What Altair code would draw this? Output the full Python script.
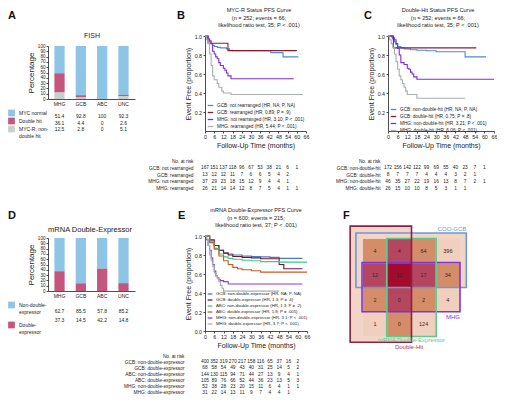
import altair as alt
import pandas as pd

FONT = "Liberation Sans"
INK = "#222222"

# ---------------- shared ----------------
months = [0, 6, 12, 18, 24, 30, 36, 42, 48, 54, 60, 66]
risk_times = [0, 6, 12, 18, 24, 30, 36, 42, 48, 54, 60]
groups = ["MHG", "GCB", "ABC", "UNC"]

# ---------------- A: FISH ----------------
fish_status = ["MYC normal", "Double hit", "MYC-R; non-double hit"]
fish_normal = [51.4, 92.8, 100, 92.3]
fish_double = [36.1, 4.4, 0, 2.6]
fish_nondh = [12.5, 2.8, 0, 5.1]
fish_colors = ["#8ec4e6", "#c4557c", "#c3d2cd"]

# ---------------- D: mRNA double expressor ----------------
de_status = ["Non-double-expressor", "Double-expressor"]
de_non = [62.7, 85.5, 57.8, 85.2]
de_double = [37.3, 14.5, 42.2, 14.8]
de_colors = ["#8ec4e6", "#c4557c"]

# ---------------- B: MYC-R status PFS ----------------
b_title = ["MYC-R Status PFS Curve", "(n = 252; events = 66;", "likelihood ratio test, 35; P < .001)"]
b_rows = ["GCB: not rearranged", "GCB: rearranged", "MHG: not rearranged", "MHG: rearranged"]
b_legend = ["GCB: not rearranged (HR, NA; P, NA)", "GCB: rearranged (HR, 0.89; P = .9)",
            "MHG: not rearranged (HR, 3.10; P < .001)", "MHG: rearranged (HR, 5.44; P < .001)"]
b_colors = ["#4a8dd0", "#8c1c32", "#7a30d8", "#a9aeae"]
b_t = [
    [0, 1, 2, 3, 4, 5, 6, 8, 10, 14, 16, 18, 43, 51, 61],
    [0, 2, 15, 60],
    [0, 2, 3, 4, 5, 6, 7, 8, 9, 10, 12, 13, 14, 15, 17, 58],
    [0, 1, 2, 3, 4, 5, 6, 8, 9, 11, 12, 17, 64],
]
b_s = [
    [1, .98, .96, .94, .92, .90, .89, .88, .875, .865, .85, .845, .825, .78, .78],
    [1, .923, .846, .846],
    [1, .97, .95, .92, .84, .81, .78, .76, .72, .69, .66, .64, .61, .58, .55, .55],
    [1, .96, .92, .81, .69, .58, .54, .50, .46, .42, .40, .385, .385],
]
b_risk = [
    [167, 151, 137, 118, 96, 67, 53, 38, 21, 6, 1],
    [13, 12, 12, 11, 7, 6, 6, 5, 4, 2],
    [37, 29, 23, 18, 15, 12, 9, 4, 4, 1],
    [26, 21, 14, 14, 12, 8, 7, 5, 4, 1, 1],
]

# ---------------- C: Double-hit status PFS ----------------
c_title = ["Double-Hit Status PFS Curve", "(n = 252; events = 66;", "likelihood ratio test, 35; P < .001)"]
c_rows = ["GCB: non-double-hit", "GCB: double-hit", "MHG: non-double-hit", "MHG: double-hit"]
c_legend = ["GCB: non-double-hit (HR, NA; P, NA)", "GCB: double-hit (HR, 0.75; P = .8)",
            "MHG: non-double-hit (HR, 3.21; P < .001)", "MHG: double-hit (HR, 6.06; P < .001)"]
c_colors = ["#4a8dd0", "#8c1c32", "#7a30d8", "#a9aeae"]
c_t = [
    [0, 2, 3, 4, 5, 6, 8, 10, 14, 18, 24, 30, 48, 61],
    [0, 3.4, 55],
    [0, 3, 4, 5, 6, 7, 8, 10, 12, 13, 14, 15, 16, 18, 66],
    [0, 1, 2, 3, 4, 5, 6, 7, 8, 9, 10, 11, 12, 18, 48],
]
c_s = [
    [1, .99, .97, .94, .91, .89, .875, .865, .855, .85, .845, .835, .78, .78],
    [1, .875, .875],
    [1, .98, .96, .92, .87, .80, .72, .70, .66, .65, .62, .60, .57, .545, .545],
    [1, .96, .92, .88, .81, .73, .65, .58, .54, .50, .46, .42, .385, .345, .345],
]
c_risk = [
    [172, 156, 142, 122, 99, 69, 55, 40, 23, 7, 1],
    [8, 7, 7, 7, 4, 4, 4, 3, 2, 1],
    [46, 35, 27, 22, 19, 16, 13, 8, 7, 2, 1],
    [26, 15, 10, 10, 8, 5, 3, 1, 1],
]

# ---------------- E: mRNA double-expressor PFS ----------------
e_title = ["mRNA Double-Expressor PFS Curve", "(n = 600; events = 215;", "likelihood ratio test, 37; P < .001)"]
e_rows = ["GCB: non-double-expressor", "GCB: double-expressor", "ABC: non-double-expressor",
          "ABC: double-expressor", "MHG: non-double-expressor", "MHG: double-expressor"]
e_legend = ["GCB: non-double-expressor (HR, NA; P, NA)", "GCB: double-expressor (HR, 1.3; P = .4)",
            "ABC: non-double-expressor (HR, 1.3; P = .2)", "ABC: double-expressor (HR, 1.8; P = .005)",
            "MHG: non-double-expressor (HR, 3.1; P < .001)", "MHG: double-expressor (HR, 3.7; P < .001)"]
e_colors = ["#3f7fc4", "#7d1030", "#3cc98a", "#cc5a1e", "#8a3ce0", "#a9aeae"]
e_t = [
    [0, 3, 6, 9, 12, 15, 18, 24, 30, 36, 42, 48, 63],
    [0, 3, 6, 9, 12, 15, 18, 24, 30, 36, 42, 48, 51, 63],
    [0, 3, 6, 9, 12, 15, 18, 24, 30, 36, 48, 66],
    [0, 3, 6, 9, 12, 15, 18, 21, 24, 30, 36, 66],
    [0, 1, 2, 3, 4, 5, 6, 7, 8, 9, 10, 12, 15, 63],
    [0, 1, 2, 3, 4, 5, 6, 7, 8, 9, 10, 11, 12, 48],
]
e_s = [
    [1, .95, .9, .85, .82, .81, .80, .79, .785, .78, .775, .765, .765],
    [1, .96, .9, .85, .82, .80, .785, .775, .77, .76, .76, .70, .655, .655],
    [1, .94, .87, .81, .78, .765, .755, .745, .74, .73, .725, .725],
    [1, .93, .86, .79, .74, .70, .67, .655, .645, .635, .62, .62],
    [1, .96, .9, .85, .77, .70, .63, .58, .56, .54, .53, .52, .495, .495],
    [1, .97, .9, .8, .74, .68, .61, .58, .55, .52, .48, .45, .42, .42],
]
e_risk = [
    [400, 352, 319, 270, 217, 158, 116, 65, 37, 16, 2],
    [68, 58, 54, 49, 43, 40, 31, 25, 14, 5, 2],
    [144, 130, 115, 94, 71, 44, 27, 13, 9, 4, 1],
    [105, 89, 76, 66, 52, 44, 36, 23, 13, 5, 3],
    [52, 38, 28, 23, 20, 15, 11, 6, 4, 1, 1],
    [31, 22, 14, 13, 11, 9, 7, 4, 4, 1],
]

# ---------------- F: overlap grid ----------------
f_counts = [[4, 4, 64, 396], [12, 12, 17, 34], [2, 0, 2, 4], [1, 0, 124, None]]
f_sets = ["COO-GCB", "MHG", "mRNA Double-Expressor", "Double-Hit"]
f_set_cols = {"Double-Hit": [0, 1], "mRNA Double-Expressor": [1, 2]}
f_set_rows = {"COO-GCB": [0, 1], "MHG": [1, 2]}
f_set_colors = {"COO-GCB": "#6b9ad6", "MHG": "#7a35dc", "mRNA Double-Expressor": "#5cc98f", "Double-Hit": "#8e1f45"}
f_label_colors = {"COO-GCB": "#6b9ad6", "MHG": "#7a35dc", "mRNA Double-Expressor": "#5cc98f", "Double-Hit": "#a83868"}
f_cell_colors = ["#f1cfbf", "#d58d69", "#b4475f", "#a20b2b"]


def letter_layer(letter, lx, ly):
    return alt.Chart(pd.DataFrame({"t": [letter]})).mark_text(
        font=FONT, fontSize=11, fontWeight="bold", align="left", baseline="middle", color="#111"
    ).encode(text="t:N", x=alt.value(lx), y=alt.value(ly))


def title_layer(lines, cx, top, size, lh=7.5):
    return alt.Chart(pd.DataFrame({"t": ["\n".join(lines)]})).mark_text(
        font=FONT, fontSize=size, lineBreak="\n", lineHeight=lh, align="center", baseline="top", color=INK
    ).encode(text="t:N", x=alt.value(cx), y=alt.value(top))


def bar_panel(letter, title, title_size, title_cx, title_top, statuses, colors, values, y_px, legend_y,
              row_pad, label_expr, table_px, width=93, height=95):
    rows = []
    for si, st in enumerate(statuses):
        for gi, g in enumerate(groups):
            v = values[si][gi]
            rows.append({"group": g, "status": st, "value": v,
                         "rank": len(statuses) - 1 - si, "label": f"{v:g}"})
    df = pd.DataFrame(rows)
    xenc = alt.X("group:N", sort=groups,
                 scale=alt.Scale(domain=groups, range=[0, 87], paddingInner=0.52, paddingOuter=0.3),
                 axis=alt.Axis(title=None, labelAngle=0, ticks=False, labelPadding=2.5, labelFontSize=5,
                               offset=y_px[0] - height))
    bars = alt.Chart(df).mark_bar().encode(
        x=xenc,
        y=alt.Y("value:Q", stack="zero",
                scale=alt.Scale(domain=[0, 100], range=y_px, nice=False),
                axis=alt.Axis(values=list(range(0, 101, 10)), title="Percentage", labelFontSize=4.6,
                              labelOverlap=False, tickSize=2, labelPadding=1, titleFontSize=8,
                              titlePadding=2)),
        color=alt.Color("status:N", scale=alt.Scale(domain=statuses, range=colors),
                        legend=alt.Legend(orient="none", legendX=-40, legendY=legend_y, title=None,
                                          symbolType="square", symbolSize=45, symbolStrokeWidth=0,
                                          labelFontSize=5, labelOffset=4, rowPadding=row_pad, padding=0,
                                          labelExpr=label_expr, labelColor=INK)),
        order=alt.Order("rank:Q", sort="ascending"),
    )
    table = alt.Chart(df).mark_text(font=FONT, fontSize=5, color=INK).encode(
        x=xenc,
        y=alt.Y("status:N", scale=alt.Scale(type="point", domain=statuses, range=table_px), axis=None),
        text="label:N",
    )
    ttl = title_layer([title], title_cx, title_top, title_size)
    return alt.layer(bars, table, ttl, letter_layer(letter, -40, -20)).resolve_scale(
        y="independent").properties(width=width, height=height)


def km_panel(letter, lx, title, title_cx, legend_labels, row_names, colors, times, surv, risk, plot_w, width,
             legend_y, legend_font, sym_size, table_px, label_pad, yvals, height=95):
    krows = []
    for lab, ts, ss in zip(legend_labels, times, surv):
        for t, s in zip(ts, ss):
            krows.append({"time": t, "surv": s, "series": lab})
    kdf = pd.DataFrame(krows)
    rrows = []
    for rn, ns in zip(row_names, risk):
        for t, n in zip(risk_times, ns):
            rrows.append({"time": t, "row": rn, "n": n})
    rdf = pd.DataFrame(rrows)
    xenc = alt.X("time:Q", scale=alt.Scale(domain=[0, 66], range=[0, plot_w], nice=False, zero=False),
                 axis=alt.Axis(values=months, title="Follow-Up Time (months)", labelFontSize=5.3,
                               labelOverlap=False, labelFlush=False, tickSize=2, labelPadding=1.5,
                               titleFontSize=7, titlePadding=2))
    lines = alt.Chart(kdf).mark_line(interpolate="step-after", strokeWidth=1.1).encode(
        x=xenc,
        y=alt.Y("surv:Q", scale=alt.Scale(domain=[0, 1], nice=False),
                axis=alt.Axis(orient="left", values=yvals, format=".1f", title="Event Free (proportion)",
                              labelFontSize=5.3, tickSize=2, labelPadding=1.5, titleFontSize=7,
                              titlePadding=3)),
        color=alt.Color("series:N", scale=alt.Scale(domain=legend_labels, range=colors),
                        legend=alt.Legend(orient="none", legendX=2, legendY=legend_y, title=None,
                                          symbolType="stroke", symbolSize=sym_size, symbolStrokeWidth=1.3,
                                          labelFontSize=legend_font, labelOffset=3, rowPadding=0,
                                          padding=0, labelLimit=300, labelColor=INK)),
    )
    table = alt.Chart(rdf).mark_text(font=FONT, fontSize=4.8, color=INK).encode(
        x=xenc,
        y=alt.Y("row:N", scale=alt.Scale(type="point", domain=["No. at risk"] + row_names, range=table_px),
                axis=alt.Axis(orient="left", domain=False, ticks=False, grid=False, title=None,
                              labelPadding=label_pad, labelFontSize=4.8, labelLimit=200, labelColor=INK)),
        text="n:Q",
    )
    ttl = title_layer(title, title_cx, -28, 5.6)
    return alt.layer(lines, table, ttl, letter_layer(letter, lx, -20)).resolve_scale(
        y="independent").properties(width=width, height=height)


def f_panel(width=106, height=95):
    pads = {"Double-Hit": (0.53, 0.0, 0.53, 0.26), "mRNA Double-Expressor": (0.02, 0.02, 0.02, 0.02),
            "COO-GCB": (0.29, 0.26, 0.25, 0.0), "MHG": (0.04, 0.0, 0.03, 0.0)}
    srows = []
    for name in f_sets:
        pl, pr, pt, pb = pads[name]
        if name in f_set_cols:
            cols = f_set_cols[name]
            x0, x1, y0, y1 = min(cols) - pl, max(cols) + 1 + pr, 0 - pt, 4 + pb
        else:
            rws = f_set_rows[name]
            x0, x1, y0, y1 = 0 - pl, 4 + pr, min(rws) - pt, max(rws) + 1 + pb
        srows.append({"name": name, "x": x0, "x2": x1, "y": y0, "y2": y1, "color": f_set_colors[name]})
    sdf = pd.DataFrame(srows)
    crows = []
    for r, rowvals in enumerate(f_counts):
        for c, v in enumerate(rowvals):
            if v is None:
                continue
            k = sum([c in f_set_cols["Double-Hit"], c in f_set_cols["mRNA Double-Expressor"],
                     r in f_set_rows["COO-GCB"], r in f_set_rows["MHG"]])
            crows.append({"x": c, "x2": c + 1, "y": r, "y2": r + 1, "xc": c + 0.5, "yc": r + 0.5,
                          "k": k, "label": str(v)})
    cdf = pd.DataFrame(crows)
    xs = alt.Scale(domain=[0, 4], range=[-25, 72], nice=False, zero=False)
    ys = alt.Scale(domain=[0, 4], range=[3, 100], nice=False, zero=False)
    fills = alt.Chart(sdf).mark_rect(color="#f3d5c8").encode(
        x=alt.X("x:Q", scale=xs, axis=None), x2="x2:Q", y=alt.Y("y:Q", scale=ys, axis=None), y2="y2:Q")
    cells = alt.Chart(cdf).mark_rect().encode(
        x=alt.X("x:Q", scale=xs, axis=None), x2="x2:Q", y=alt.Y("y:Q", scale=ys, axis=None), y2="y2:Q",
        color=alt.Color("k:O", scale=alt.Scale(domain=[1, 2, 3, 4], range=f_cell_colors), legend=None))
    outlines = alt.Chart(sdf).mark_rect(filled=False, strokeWidth=1.6).encode(
        x=alt.X("x:Q", scale=xs, axis=None), x2="x2:Q", y=alt.Y("y:Q", scale=ys, axis=None), y2="y2:Q",
        stroke=alt.Stroke("color:N", scale=None))
    nums = alt.Chart(cdf).mark_text(font=FONT, fontSize=5.5, color="#3a2525").encode(
        x=alt.X("xc:Q", scale=xs, axis=None), y=alt.Y("yc:Q", scale=ys, axis=None), text="label:N")
    b = sdf.set_index("name")

    def lab(name, xv, yv, align, baseline, dy):
        return alt.Chart(pd.DataFrame({"t": [name], "lx": [xv], "ly": [yv]})).mark_text(
            font=FONT, fontSize=6, align=align, baseline=baseline, dy=dy, color=f_label_colors[name]
        ).encode(x=alt.X("lx:Q", scale=xs, axis=None), y=alt.Y("ly:Q", scale=ys, axis=None), text="t:N")

    labels = [
        lab("COO-GCB", b.loc["COO-GCB", "x2"], b.loc["COO-GCB", "y"], "right", "bottom", -0.5),
        lab("MHG", b.loc["MHG", "x2"], b.loc["MHG", "y2"], "right", "top", 2),
        lab("mRNA Double-Expressor", (b.loc["mRNA Double-Expressor", "x"] + b.loc["mRNA Double-Expressor", "x2"]) / 2,
            b.loc["mRNA Double-Expressor", "y2"], "center", "top", 0.5),
        lab("Double-Hit", b.loc["Double-Hit", "x2"] - 0.1, b.loc["Double-Hit", "y2"], "center", "top", 1.5),
    ]
    return alt.layer(fills, cells, outlines, nums, *labels, letter_layer("F", -45, -20)).properties(
        width=width, height=height)


A = bar_panel("A", "FISH", 7, 44, -4, fish_status, fish_colors, [fish_normal, fish_double, fish_nondh],
              [63, 10], 73.5, 1,
              "datum.label == 'MYC-R; non-double hit' ? ['MYC-R; non-', 'double hit'] : datum.label",
              [77, 96])
D = bar_panel("D", "mRNA Double-Expressor", 7.5, 42, -10, de_status, de_colors, [de_non, de_double],
              [55, 2], 65.5, 6,
              "datum.label == 'Non-double-expressor' ? ['Non-double-', 'expressor'] : ['Double-', 'expressor']",
              [71, 88])
B = km_panel("B", -28, b_title, 54, b_legend, b_rows, b_colors, b_t, b_s, b_risk, 101, 119, 66, 4.7, 30,
             [122, 156], 12, [0.2, 0.4, 0.6, 0.8, 1.0])
C = km_panel("C", -24, c_title, 50, c_legend, c_rows, c_colors, c_t, c_s, c_risk, 106, 106, 70, 4.7, 30,
             [122, 156], 8, [0.2, 0.4, 0.6, 0.8, 1.0])
E = km_panel("E", -27, e_title, 51, e_legend, e_rows, e_colors, e_t, e_s, e_risk, 102, 119, 55, 4.3, 22,
             [117, 160], 21, [0.0, 0.2, 0.4, 0.6, 0.8, 1.0])
F = f_panel()

chart = alt.concat(
    A, B, C, D, E, F, columns=3, spacing={"row": 105, "column": 64}, bounds="flush", align="each"
).resolve_scale(
    x="independent", y="independent", color="independent"
).resolve_legend(color="independent").properties(padding=0).configure(font=FONT).configure_view(
    stroke=None
).configure_axis(
    labelFont=FONT, titleFont=FONT, titleFontWeight="normal", domainColor=INK, tickColor=INK,
    labelColor=INK, titleColor=INK, grid=False, domainWidth=0.8, tickWidth=0.8
).configure_legend(labelFont=FONT)

chart.save("out.html", embed_options={"renderer": "svg", "actions": False})
